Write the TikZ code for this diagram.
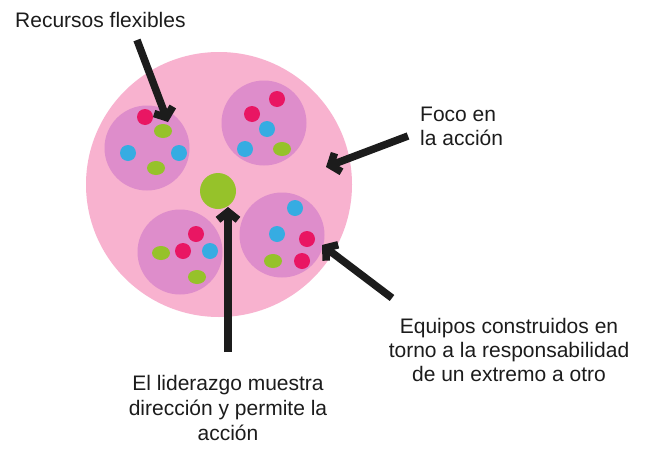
\documentclass[tikz,border=0pt]{standalone}
\usepackage{fontspec}
\setmainfont{Liberation Sans}
\usetikzlibrary{arrows.meta, shapes.geometric}
\definecolor{blobpink}{RGB}{248,178,207}
\definecolor{teammauve}{RGB}{222,141,203}
\definecolor{dotred}{RGB}{233,22,99}
\definecolor{dotblue}{RGB}{54,172,226}
\definecolor{dotgreen}{RGB}{150,194,42}
\definecolor{inkblack}{RGB}{28,28,28}

\begin{document}
\begin{tikzpicture}[x=1pt, y=-1pt,
    team/.style={circle, fill=teammauve, minimum size=85pt, inner sep=0pt},
    reddot/.style={circle, fill=dotred, minimum size=16pt, inner sep=0pt},
    bluedot/.style={circle, fill=dotblue, minimum size=16pt, inner sep=0pt},
    greendot/.style={ellipse, fill=dotgreen, minimum width=18pt, minimum height=14pt, inner sep=0pt},
    pointer/.style={line width=7.5pt, draw=inkblack, -{Straight Barb[length=8pt, width=20pt]}},
    note/.style={font=\fontsize{21}{24}\selectfont, inner sep=0pt, text=inkblack}
]
\fill[white] (0,0) rectangle (645,458);
\useasboundingbox (0,0) rectangle (645,458);
\node[ellipse, fill=blobpink, minimum width=266pt, minimum height=265pt, inner sep=0pt] (blob) at (219,184.5) {};
\node[team] (teamTL) at (147,148) {};
\node[team] (teamTR) at (264,123) {};
\node[team] (teamBL) at (180,252) {};
\node[team] (teamBR) at (282,235) {};
\node[circle, fill=dotgreen, minimum size=36pt, inner sep=0pt] (hub) at (218,191) {};
% team top left
\node[reddot] (tlA) at (145,117) {};
\node[greendot] (tlB) at (163,131) {};
\node[bluedot] (tlC) at (128,153) {};
\node[bluedot] (tlD) at (179,153) {};
\node[greendot] (tlE) at (156,168) {};
% team top right
\node[reddot] (trA) at (277,99) {};
\node[reddot] (trB) at (252,114) {};
\node[bluedot] (trC) at (267,129) {};
\node[bluedot] (trD) at (245,149) {};
\node[greendot] (trE) at (282,149) {};
% team bottom left
\node[reddot] (blA) at (196,234) {};
\node[reddot] (blB) at (183,251) {};
\node[bluedot] (blC) at (210,251) {};
\node[greendot] (blD) at (161,253) {};
\node[greendot] (blE) at (197,277) {};
% team bottom right
\node[bluedot] (brA) at (295,208) {};
\node[bluedot] (brB) at (277,234) {};
\node[reddot] (brC) at (307,239) {};
\node[greendot] (brD) at (273,261) {};
\node[reddot] (brE) at (302,261) {};
% texts
\node[note, anchor=base west] (recursos) at (15,27) {Recursos flexibles};
\node[note, anchor=north west, align=left] (foco) at (420,107) {Foco en\\la acción};
\node[note, anchor=north, align=center] (equipos) at (509,318) {Equipos construidos en\\torno a la responsabilidad\\de un extremo a otro};
\node[note, font=\fontsize{21}{25}\selectfont, anchor=north, align=center] (liderazgo) at (228,375) {El liderazgo muestra\\dirección y permite la\\acción};
% arrows
\coordinate (recTail) at (137,40);
\coordinate (recTip) at (168,122);
\coordinate (focoTail) at (408,136);
\coordinate (focoTip) at (326,167);
\coordinate (eqTail) at (392,298);
\coordinate (eqTip) at (322,245);
\coordinate (lidTail) at (228,352);
\coordinate (lidTip) at (228,207);
\draw[pointer] (recTail) -- (recTip);
\draw[pointer] (focoTail) -- (focoTip);
\draw[pointer] (eqTail) -- (eqTip);
\draw[pointer] (lidTail) -- (lidTip);
\end{tikzpicture}
\end{document}
